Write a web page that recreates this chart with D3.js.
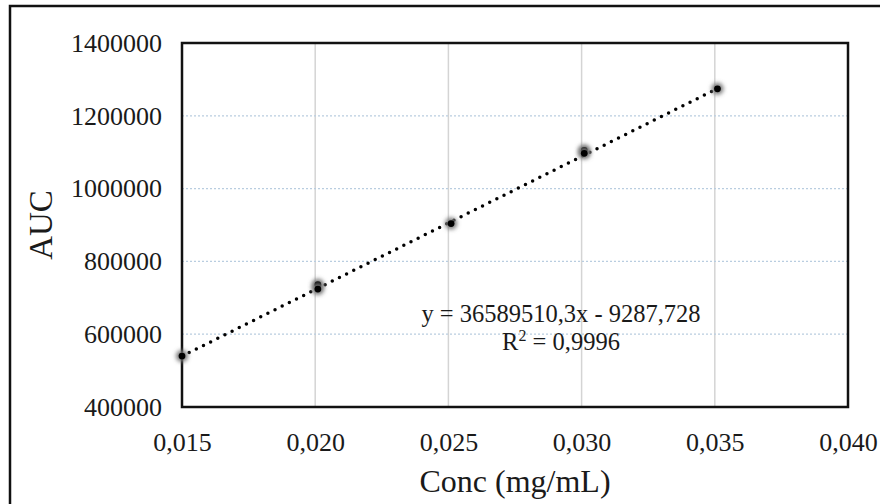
<!DOCTYPE html>
<html>
<head>
<meta charset="utf-8">
<script src="https://cdn.jsdelivr.net/npm/d3@7"></script>
<style>
  body { margin: 0; background: #fff; }
  text { font-family: "Liberation Serif", "Times New Roman", serif; fill: #1a1a1a; }
</style>
</head>
<body>
<div id="chart"></div>
<script>
// data
const conc = [0.015, 0.0201, 0.0201, 0.0251, 0.0301, 0.0301, 0.0351];
const auc = [540000, 736000, 724000, 904000, 1105000, 1097000, 1274000];
const xTicks = [0.015, 0.020, 0.025, 0.030, 0.035, 0.040];
const yTicks = [400000, 600000, 800000, 1000000, 1200000, 1400000];
const slope = 36589510.3;
const intercept = -9287.728;
const fitRange = [0.015, 0.035];
const eqLines = ["y = 36589510,3x - 9287,728", "R2 = 0,9996"];

const width = 880, height = 504;
const margin = {top: 43, right: 32, bottom: 97, left: 182};

const svg = d3.select("#chart")
    .append("svg")
    .attr("width", width)
    .attr("height", height);

// outer frame
svg.append("rect")
    .attr("x", 10).attr("y", 6)
    .attr("width", width + 10).attr("height", height + 10)
    .attr("fill", "none")
    .attr("stroke", "#111")
    .attr("stroke-width", 2.5);

const defs = svg.append("defs");
defs.append("filter")
    .attr("id", "blur")
    .attr("x", "-1").attr("y", "-1").attr("width", "3").attr("height", "3")
    .append("feGaussianBlur")
    .attr("stdDeviation", 2);

let x = d3.scaleLinear()
    .domain([0.015, 0.040])
    .range([margin.left, width - margin.right]);

let y = d3.scaleLinear()
    .domain([400000, 1400000])
    .range([height - margin.bottom, margin.top]);

// vertical grid (solid, light gray)
svg.append("g")
    .selectAll("line")
    .data(xTicks.slice(1, -1))
    .join("line")
    .attr("x1", d => x(d)).attr("x2", d => x(d))
    .attr("y1", y(400000)).attr("y2", y(1400000))
    .attr("stroke", "#d4d4d4")
    .attr("stroke-width", 1.5);

// horizontal grid (dotted, light blue)
svg.append("g")
    .selectAll("line")
    .data(yTicks.slice(1, -1))
    .join("line")
    .attr("x1", x(0.015)).attr("x2", x(0.040))
    .attr("y1", d => y(d)).attr("y2", d => y(d))
    .attr("stroke", "#b9cde0")
    .attr("stroke-width", 1.3)
    .attr("stroke-dasharray", "2,2");

// axes (labels only, frame drawn separately)
let xAxis = d3.axisBottom(x)
    .tickValues(xTicks)
    .tickSize(0)
    .tickPadding(26)
    .tickFormat(d => d3.format(".3f")(d).replace(".", ","));

let yAxis = d3.axisLeft(y)
    .tickValues(yTicks)
    .tickSize(0)
    .tickPadding(20)
    .tickFormat(d3.format("d"));

svg.append("g")
    .attr("transform", "translate(0," + (height - margin.bottom) + ")")
    .call(xAxis)
    .call(g => g.select(".domain").remove())
    .selectAll("text")
    .style("font-family", "'Liberation Serif', serif")
    .style("font-size", "26px")
    .attr("fill", "#1a1a1a");

svg.append("g")
    .attr("transform", "translate(" + margin.left + ",0)")
    .call(yAxis)
    .call(g => g.select(".domain").remove())
    .selectAll("text")
    .style("font-family", "'Liberation Serif', serif")
    .style("font-size", "26px")
    .attr("fill", "#1a1a1a");

// plot frame
svg.append("rect")
    .attr("x", x(0.015)).attr("y", y(1400000))
    .attr("width", x(0.040) - x(0.015))
    .attr("height", y(400000) - y(1400000))
    .attr("fill", "none")
    .attr("stroke", "#111")
    .attr("stroke-width", 2.5);

// trend line
let line = d3.line()
    .x(d => x(d))
    .y(d => y(slope * d + intercept));

svg.append("path")
    .datum(fitRange)
    .attr("d", line)
    .attr("fill", "none")
    .attr("stroke", "#000")
    .attr("stroke-width", 3.5)
    .attr("stroke-linecap", "round")
    .attr("stroke-dasharray", "0,8");

// points: gray halo + black core
let pts = svg.append("g")
    .selectAll("g")
    .data(conc.map((c, i) => ({x: c, y: auc[i]})))
    .join("g");

pts.append("circle")
    .attr("cx", d => x(d.x))
    .attr("cy", d => y(d.y))
    .attr("r", 6)
    .attr("fill", "#777")
    .attr("filter", "url(#blur)");

pts.append("circle")
    .attr("cx", d => x(d.x))
    .attr("cy", d => y(d.y))
    .attr("r", 3.4)
    .attr("fill", "#000");

// equation
let eq = svg.append("text")
    .attr("x", 561)
    .attr("y", 322)
    .attr("text-anchor", "middle")
    .style("font-size", "24.5px");
eq.text(eqLines[0]);

let r2 = svg.append("text")
    .attr("x", 561)
    .attr("y", 350)
    .attr("text-anchor", "middle")
    .style("font-size", "24.5px");
r2.append("tspan").text("R");
r2.append("tspan").attr("dy", -9).style("font-size", "16px").text("2");
r2.append("tspan").attr("dy", 9).text(eqLines[1].slice(2));

// axis titles
svg.append("text")
    .attr("transform", "translate(52," + ((margin.top + height - margin.bottom) / 2) + ") rotate(-90)")
    .attr("text-anchor", "middle")
    .style("font-size", "33px")
    .text("AUC");

svg.append("text")
    .attr("x", (x(0.015) + x(0.040)) / 2)
    .attr("y", 492)
    .attr("text-anchor", "middle")
    .style("font-size", "32px")
    .text("Conc (mg/mL)");
</script>
</body>
</html>
